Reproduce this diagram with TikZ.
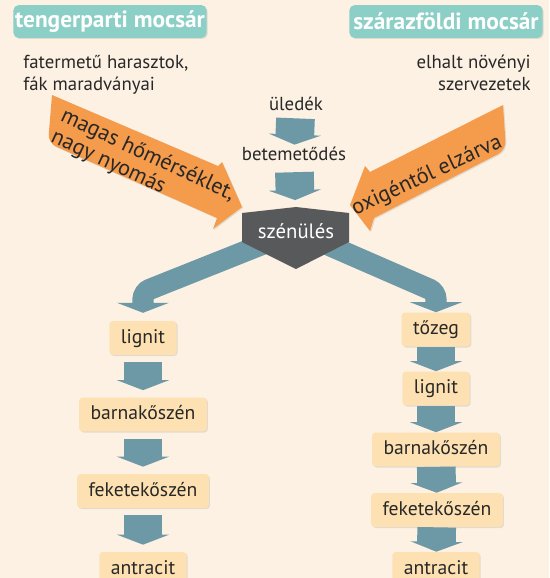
\documentclass[tikz,border=0pt]{standalone}
\usepackage{fontspec}
\setmainfont{PT Sans}
\usepackage{tikz}
\usetikzlibrary{%
  positioning,%
  arrows.meta,%
  shadows%
}
\definecolor{paper}{RGB}{252,241,227}
\definecolor{seafoam}{RGB}{140,207,198}
\definecolor{peat}{RGB}{253,225,178}
\definecolor{slate}{RGB}{109,152,166}
\definecolor{ember}{RGB}{245,155,76}
\definecolor{graphite}{RGB}{88,89,91}
\definecolor{ink}{RGB}{40,40,40}

\begin{document}
\begin{tikzpicture}[x=0.02cm, y=-0.02cm,
  every node/.style={text=ink, inner sep=0pt, font=\fontsize{10.7}{12.3}\selectfont},
  swamp/.style={fill=seafoam, rounded corners=3pt, text=white,
    font=\bfseries\fontsize{13.3}{15}\selectfont, minimum width=110pt,
    minimum height=18.7pt, drop shadow={opacity=0.2, shadow xshift=0.6pt, shadow yshift=-0.6pt}},
  lbl/.style={text height=8pt, text depth=2pt},
  stage/.style={fill=peat, rounded corners=2pt, font=\fontsize{11.2}{13}\selectfont,
    text height=8pt, text depth=2pt, minimum width=31.7pt, minimum height=19.3pt,
    inner xsep=6.5pt, drop shadow={opacity=0.2, shadow xshift=0.6pt, shadow yshift=-0.6pt}},
  sink/.style={color=slate, line width=22pt, -{Triangle[width=29.5pt,length=5.7pt]}},
  branch/.style={color=slate, line width=12pt, rounded corners=4pt,
    -{Triangle[width=29.5pt,length=5.7pt]}},
  push/.style={fill=ember, drop shadow={opacity=0.2, shadow xshift=0.6pt, shadow yshift=-0.6pt}},
  pushtext/.style={font=\fontsize{12.6}{13}\selectfont, align=left}
]
\fill[paper] (0,0) rectangle (549,578);
\useasboundingbox (0,0) rectangle (549,578);

% the two swamps
\node[swamp] (sea) at (110,21.5) {tengerparti mocsár};
\node[swamp] (land) at (446,21.5) {szárazföldi mocsár};
\node[anchor=north west, align=left] (ferns) at (23,55) {fatermetű harasztok,\\fák maradványai};
\node[anchor=north east, align=right] (dead) at (531,55) {elhalt növényi\\szervezetek};

% coal series, left and right
\node[stage] (lignitL) at (143,338) {lignit};
\node[stage] (barnaL) at (143,414.5) {barnakőszén};
\node[stage] (feketeL) at (143,491) {feketekőszén};
\node[stage] (antraL) at (143,569) {antracit};

\node[stage] (tozeg) at (436,329.5) {tőzeg};
\node[stage] (lignitR) at (436,388.5) {lignit};
\node[stage] (barnaR) at (436,449.5) {barnakőszén};
\node[stage] (feketeR) at (437,510) {feketekőszén};
\node[stage] (antraR) at (436,569) {antracit};

\draw
	(lignitL) edge[sink, shorten <=4pt, shorten >=4pt] (barnaL)
	(barnaL) edge[sink, shorten <=4pt, shorten >=4pt] (feketeL)
	(feketeL) edge[sink, shorten <=4pt, shorten >=4pt] (antraL)
	(tozeg) edge[sink] (lignitR)
	(lignitR) edge[sink] (barnaR)
	(barnaR) edge[sink] (feketeR)
	(feketeR) edge[sink] (antraR)
;

% coalification
\coordinate (szenpos) at (296,231);
\coordinate (bendL) at (143,292);
\coordinate (bendR) at (436,292);
\draw[branch, shorten >=4.5pt] (szenpos) -- (bendL) -- (lignitL);
\draw[branch] (szenpos) -- (bendR) -- (tozeg);
\fill[graphite, shift={(szenpos)}] (-54,-18) -- (0,-24) -- (53,-18) -- (53,11)
  -- (0,38) -- (-54,11) -- cycle;
\node[text=white, font=\fontsize{11.8}{13}\selectfont, text height=8pt, text depth=0pt,
  minimum height=16.4pt] (szen) at (szenpos) {szénülés};

\node[lbl] (uledek) at (296,105.7) {üledék};
\node[lbl] (betem) at (294,155.7) {betemetődés};
\draw
	(uledek) edge[sink, shorten <=2pt, shorten >=1.1pt] (betem)
	(betem) edge[sink, shorten <=4.2pt, shorten >=9.2pt] (szen)
;

% conditions
\fill[push] (52,95) -- (218,166) -- (222,162) -- (242,207) -- (213,229) -- (217,218)
  [rounded corners=5pt] -- (48,143) [sharp corners] -- cycle;
\node[pushtext, rotate=-25] (heat) at (143,166) {magas hőmérséklet,\\nagy nyomás};
\fill[push] (503,105) -- (370,172) -- (365,166) -- (350,205) -- (370,231) -- (374,218)
  [rounded corners=5pt] -- (506,150) [sharp corners] -- cycle;
\node[pushtext, rotate=25] (air) at (427,176) {oxigéntől elzárva};
\end{tikzpicture}
\end{document}
